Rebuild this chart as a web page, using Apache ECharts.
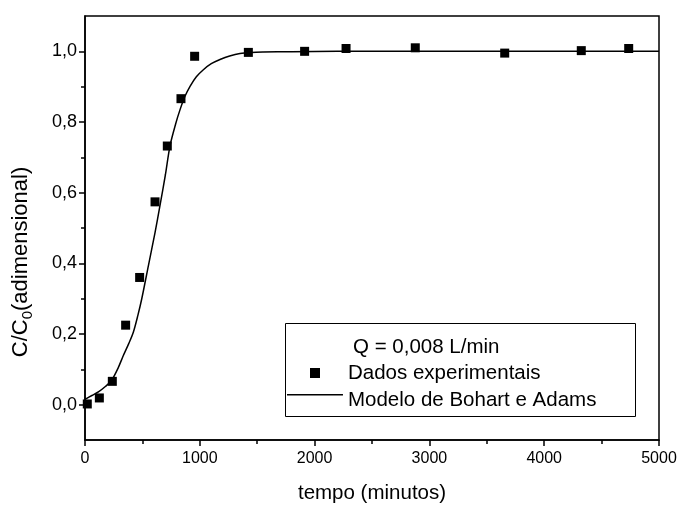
<!DOCTYPE html>
<html>
<head>
<meta charset="utf-8">
<script src="https://cdn.jsdelivr.net/npm/echarts@6/dist/echarts.min.js"></script>
<style>
html,body{margin:0;padding:0;background:#fff;}
#chart{width:680px;height:509px;}
</style>
</head>
<body>
<div id="chart"></div>
<script>
// Experimental data (tempo em minutos, C/C0)
var expTime = [20, 125, 238, 354, 476, 610, 717, 836, 955, 1423, 1913, 2274, 2877, 3656, 4323, 4736];
var expConc = [0.002, 0.019, 0.066, 0.225, 0.360, 0.574, 0.732, 0.866, 0.986, 0.997, 1.0, 1.008, 1.010, 0.995, 1.002, 1.008];

// Bohart-Adams model curve
var modelTime = [0, 60, 120, 180, 232, 290, 334, 380, 421, 460, 494, 552, 610, 653, 700, 740, 790, 828, 870, 915, 970, 1031, 1100, 1176, 1260, 1350, 1450, 1553, 1800, 2200, 3000, 4000, 5000];
var modelConc = [0.015, 0.026, 0.037, 0.052, 0.069, 0.105, 0.139, 0.172, 0.205, 0.252, 0.299, 0.393, 0.487, 0.563, 0.650, 0.732, 0.795, 0.835, 0.872, 0.901, 0.928, 0.948, 0.965, 0.977, 0.987, 0.994, 0.997, 0.998, 0.999, 1.0, 1.0, 1.0, 1.0];

var yMajor = [0, 0.2, 0.4, 0.6, 0.8, 1.0];
var yMinor = [0.1, 0.3, 0.5, 0.7, 0.9];
var xTicks = [0, 1000, 2000, 3000, 4000, 5000];
var xMinor = [500, 1500, 2500, 3500, 4500];

var seriesNames = ['Dados experimentais', 'Modelo de Bohart e Adams'];
var legendTitle = 'Q = 0,008 L/min';
var xTitle = 'tempo (minutos)';

var FONT = '"Liberation Sans", Arial, sans-serif';

function pairs(xs, ys) {
  return xs.map(function (x, i) { return [x, ys[i]]; });
}

var chart = echarts.init(document.getElementById('chart'), null, {renderer: 'canvas'});

var tickStyle = {color: '#000', width: 1.5};

var option = {
  backgroundColor: '#fff',
  animation: false,
  textStyle: {fontFamily: FONT, color: '#000'},
  grid: {
    left: 85, right: 21, top: 16, bottom: 67,
    show: true, borderColor: '#000', borderWidth: 1.5, backgroundColor: 'transparent'
  },
  xAxis: [{
    type: 'value', min: 0, max: 5000, interval: 1000,
    name: xTitle, nameLocation: 'middle', nameGap: 43,
    nameTextStyle: {fontFamily: FONT, fontSize: 20.5, color: '#000'},
    axisLine: {show: true, onZero: false, lineStyle: tickStyle},
    axisTick: {show: true, inside: false, length: 6, customValues: xTicks, lineStyle: tickStyle},
    axisLabel: {margin: 11, fontFamily: FONT, fontSize: 16, color: '#000',
      customValues: xTicks,
      formatter: function (v) { return String(v); }},
    splitLine: {show: false}
  }, {
    type: 'value', min: 0, max: 5000, interval: 500, position: 'bottom',
    axisLine: {show: false, onZero: false},
    axisTick: {show: true, inside: false, length: 4, customValues: xMinor, lineStyle: tickStyle},
    axisLabel: {show: false},
    splitLine: {show: false}
  }],
  yAxis: [{
    type: 'value', min: -0.1, max: 1.1, interval: 0.1,
    name: 'C/C{sub|0}(adimensional)', nameLocation: 'middle', nameGap: 50, nameRotate: 90,
    nameTextStyle: {fontFamily: FONT, fontSize: 22, color: '#000', padding: [0, 68, 0, 0],
      rich: {sub: {fontFamily: FONT, fontSize: 15, color: '#000', padding: [13, 0, 0, 0]}}},
    axisLine: {show: true, onZero: false, lineStyle: tickStyle},
    axisTick: {show: true, inside: false, length: 6, customValues: yMajor, lineStyle: tickStyle},
    axisLabel: {margin: 8, fontFamily: FONT, fontSize: 18, color: '#000',
      customValues: yMajor,
      formatter: function (v) { return v.toFixed(1).replace('.', ','); }},
    splitLine: {show: false}
  }, {
    type: 'value', min: -0.1, max: 1.1, interval: 0.1, position: 'left',
    axisLine: {show: false, onZero: false},
    axisTick: {show: true, inside: false, length: 4, customValues: yMinor, lineStyle: tickStyle},
    axisLabel: {show: false},
    splitLine: {show: false}
  }],
  legend: [{
    data: [{name: seriesNames[0], icon: 'rect'}],
    orient: 'vertical', left: 310, top: 362.5, padding: 0,
    itemWidth: 10, itemHeight: 10,
    itemStyle: {color: '#000', opacity: 1},
    textStyle: {fontFamily: FONT, fontSize: 20.5, lineHeight: 20, color: '#000', padding: [0, 0, 0, 23]},
    selectedMode: false
  }, {
    data: [{name: seriesNames[1], icon: 'path://M0,0L56,0L56,1.5L0,1.5Z M0,13L0.01,13L0.01,13.01Z'}],
    orient: 'vertical', left: 287, top: 390, padding: 0,
    itemWidth: 56, itemHeight: 13,
    itemStyle: {color: '#000', opacity: 1, borderWidth: 0},
    textStyle: {fontFamily: FONT, fontSize: 20.5, lineHeight: 20, color: '#000'},
    selectedMode: false
  }],
  graphic: [{
    type: 'rect', shape: {x: 285.5, y: 323.5, width: 350, height: 93},
    style: {fill: 'transparent', stroke: '#000', lineWidth: 1}, z: 10
  }, {
    type: 'text', left: 353, top: 337,
    style: {text: legendTitle, font: '20.5px ' + FONT, fill: '#000'}, z: 11
  }],
  series: [{
    name: seriesNames[1], type: 'line', data: pairs(modelTime, modelConc),
    smooth: 0.3, symbol: 'none', showSymbol: false,
    lineStyle: {color: '#000', width: 1.5}, itemStyle: {color: '#000'}, z: 2
  }, {
    name: seriesNames[0], type: 'scatter', data: pairs(expTime, expConc),
    symbol: 'rect', symbolSize: 9, itemStyle: {color: '#000', opacity: 1}, z: 3
  }]
};
chart.setOption(option);
</script>
</body>
</html>
